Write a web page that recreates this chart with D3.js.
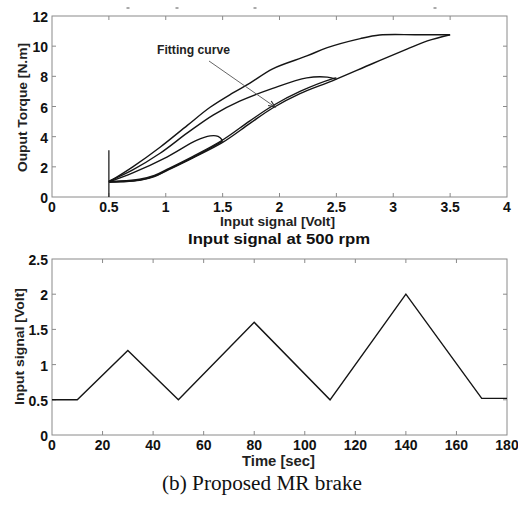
<!DOCTYPE html>
<html><head><meta charset="utf-8">
<script src="https://cdn.jsdelivr.net/npm/d3@7"></script>
<style>
body{margin:0;background:#fff;}
</style></head>
<body><svg id="c" width="518" height="510"></svg>
<script>
// ---- Top chart data (Input signal [Volt] vs Output torque [N.m]) ----
const topXTicks = [0,0.5,1,1.5,2,2.5,3,3.5,4];
const topYTicks = [0,2,4,6,8,10,12];
// rising (lower) branches
const rise1Volt   = [0.5,0.6,0.77,0.9,1.01,1.24,1.5];
const rise1Torque = [1.0,1.03,1.12,1.38,1.78,2.62,3.7];
const rise2Volt   = [0.5,0.6,0.77,0.9,1.01,1.24,1.5,1.74,1.94,2.18,2.47,2.5];
const rise2Torque = [1.05,1.06,1.18,1.43,1.83,2.7,3.78,5.05,6.05,7.0,7.85,7.9];
const rise3Volt   = [0.5,0.6,0.77,0.9,1.01,1.24,1.5,1.74,1.94,2.18,2.47,2.82,3.12,3.3,3.5];
const rise3Torque = [0.97,1.0,1.1,1.35,1.75,2.6,3.62,4.88,5.9,6.85,7.72,8.85,9.8,10.35,10.76];
// descending (upper) branches
const fall1Volt   = [0.5,0.71,1.01,1.27,1.39,1.46,1.5];
const fall1Torque = [1.0,1.6,2.65,3.75,4.05,4.02,3.75];
const fall2Volt   = [0.5,0.71,0.95,1.19,1.42,1.65,1.94,2.24,2.42,2.5];
const fall2Torque = [1.05,1.8,2.9,4.25,5.45,6.35,7.2,7.9,7.95,7.8];
const fall3Volt   = [0.5,0.71,0.95,1.19,1.39,1.59,1.74,1.94,2.24,2.42,2.71,2.88,3.2,3.5];
const fall3Torque = [1.0,2.0,3.3,4.75,5.95,6.9,7.55,8.5,9.35,9.9,10.5,10.74,10.76,10.76];
// ---- Bottom chart data (Input signal vs time) ----
const timeSec  = [0,10,30,50,80,110,140,170,180];
const signalV  = [0.5,0.5,1.2,0.5,1.6,0.5,2.0,0.52,0.52];
const botXTicks = [0,20,40,60,80,100,120,140,160,180];
const botYTicks = [0,0.5,1,1.5,2,2.5];
const botYLabels = ["0","0.5","1","1.5","2","2.5"];

const SANS = "'Liberation Sans', Arial, Helvetica, sans-serif";
const SERIF = "'Liberation Serif', 'Times New Roman', serif";
const svg = d3.select("#c");
const L = 52, R = 507;
const boxColor = "#8a8a8a";

function txt(g, s, x, y, size, opts={}){
  const t = g.append("text").attr("x",x).attr("y",y)
    .attr("text-anchor",opts.anchor||"middle")
    .style("font-family",opts.family||SANS)
    .style("font-size",size+"px")
    .style("font-weight",opts.weight||"bold")
    .attr("fill",opts.fill||"#111").text(s);
  if(opts.len) t.attr("textLength",opts.len).attr("lengthAdjust","spacingAndGlyphs");
  if(opts.transform) t.attr("transform",opts.transform);
  return t;
}

function drawBox(g, x, y, xt, yt, ytf){
  const [x0,x1]=x.range(), [y0,y1]=y.range();
  g.append("rect").attr("x",x0).attr("y",y1).attr("width",x1-x0).attr("height",y0-y1)
    .attr("fill","none").attr("stroke",boxColor).attr("stroke-width",1);
  const tl=4;
  xt.forEach(v=>{
    const px=x(v);
    if(v!==xt[0] && v!==xt[xt.length-1]){
      g.append("line").attr("x1",px).attr("x2",px).attr("y1",y0).attr("y2",y0-tl).attr("stroke",boxColor);
      g.append("line").attr("x1",px).attr("x2",px).attr("y1",y1).attr("y2",y1+tl).attr("stroke",boxColor);
    }
    txt(g, String(v), px, y0+14.5, 14);
  });
  yt.forEach((v,i)=>{
    const py=y(v);
    if(i!==0 && i!==yt.length-1){
      g.append("line").attr("x1",x0).attr("x2",x0+tl).attr("y1",py).attr("y2",py).attr("stroke",boxColor);
      g.append("line").attr("x1",x1).attr("x2",x1-tl).attr("y1",py).attr("y2",py).attr("stroke",boxColor);
    }
    txt(g, ytf?ytf[i]:String(v), x0-4, py+6, 14, {anchor:"end"});
  });
}

// ---- top chart ----
const xT = d3.scaleLinear().domain([0,4]).range([L,R]);
const yT = d3.scaleLinear().domain([0,12]).range([197,16]);
const gT = svg.append("g");
drawBox(gT, xT, yT, topXTicks, topYTicks);
const lineT = d3.line().x(d=>xT(d[0])).y(d=>yT(d[1])).curve(d3.curveCatmullRom.alpha(0.5));
[[rise1Volt,rise1Torque],[rise2Volt,rise2Torque],[rise3Volt,rise3Torque],
 [fall1Volt,fall1Torque],[fall2Volt,fall2Torque],[fall3Volt,fall3Torque]].forEach(([vx,vy])=>{
  gT.append("path").datum(vx.map((v,i)=>[v,vy[i]])).attr("d",lineT)
    .attr("fill","none").attr("stroke","#151515").attr("stroke-width",1.4);
});
// vertical marker at 0.5 V
gT.append("line").attr("x1",xT(0.5)).attr("x2",xT(0.5)).attr("y1",yT(0)).attr("y2",yT(3.1))
  .attr("stroke","#222").attr("stroke-width",1.3);
// annotation
txt(gT, "Fitting curve", 193.5, 54, 12, {fill:"#222", len:73});
const ax0=[209,61], ax1=[xT(1.96),yT(5.97)];
gT.append("line").attr("x1",ax0[0]).attr("y1",ax0[1]).attr("x2",ax1[0]).attr("y2",ax1[1])
  .attr("stroke","#666").attr("stroke-width",1);
const ang=Math.atan2(ax1[1]-ax0[1],ax1[0]-ax0[0]);
const ah=7;
gT.append("path").attr("d",`M${ax1[0]-ah*Math.cos(ang-0.4)},${ax1[1]-ah*Math.sin(ang-0.4)}L${ax1[0]},${ax1[1]}L${ax1[0]-ah*Math.cos(ang+0.4)},${ax1[1]-ah*Math.sin(ang+0.4)}`)
  .attr("fill","none").attr("stroke","#333").attr("stroke-width",1.2);
// small stray marks above plot
[128,177,255,435].forEach(px=>{
  gT.append("line").attr("x1",px-1.5).attr("x2",px+1.5).attr("y1",8).attr("y2",8).attr("stroke","#555").attr("stroke-width",1);
});
txt(gT, "Ouput Torque [N.m]", 0, 0, 13.5, {fill:"#222", len:129, transform:`translate(27,107.5) rotate(-90)`});
txt(gT, "Input signal [Volt]", 277.5, 226, 13, {fill:"#222", len:115});

// ---- bottom chart ----
const xB = d3.scaleLinear().domain([0,180]).range([L,R]);
const yB = d3.scaleLinear().domain([0,2.5]).range([435,259]);
const gB = svg.append("g");
txt(svg, "Input signal at 500 rpm", 279, 244, 15, {len:182});
drawBox(gB, xB, yB, botXTicks, botYTicks, botYLabels);
gB.append("path").datum(timeSec.map((t,i)=>[t,signalV[i]]))
  .attr("d",d3.line().x(d=>xB(d[0])).y(d=>yB(d[1])))
  .attr("fill","none").attr("stroke","#151515").attr("stroke-width",1.4);
txt(gB, "Input signal [Volt]", 0, 0, 13.5, {fill:"#222", len:117, transform:`translate(24,346.5) rotate(-90)`});
txt(gB, "Time [sec]", 278.5, 466, 14, {fill:"#222", len:73});

txt(svg, "(b) Proposed MR brake", 262, 490, 20, {family:SERIF, weight:"normal", len:200});
</script></body></html>
